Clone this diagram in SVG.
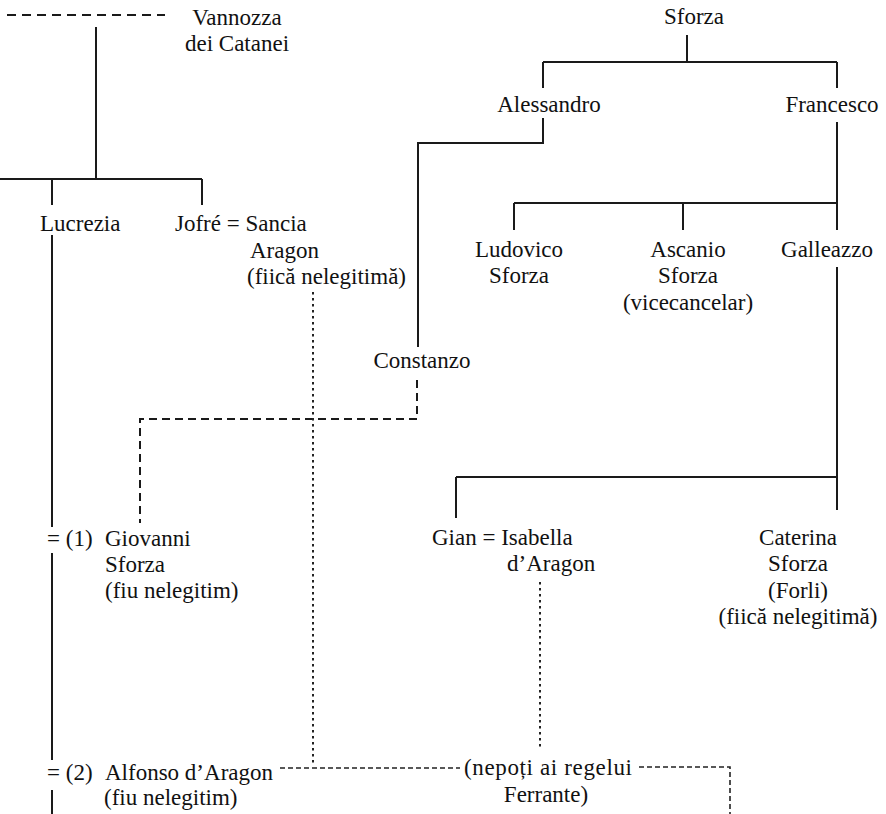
<svg xmlns="http://www.w3.org/2000/svg" width="886" height="814" viewBox="0 0 886 814">
<style>
text{font-family:"Liberation Serif","Times New Roman",serif;font-size:23px;fill:#111}
.m{text-anchor:middle}
.s{fill:none;stroke:#1a1a1a;stroke-width:2}
.d{fill:none;stroke:#1a1a1a;stroke-width:2;stroke-dasharray:9 6}
.d2{fill:none;stroke:#1a1a1a;stroke-width:2;stroke-dasharray:8 5}
.sd{fill:none;stroke:#222;stroke-width:1.6;stroke-dasharray:5 3}
.dt{fill:none;stroke:#222;stroke-width:2;stroke-dasharray:2.5 3.5}
</style>
<rect width="886" height="814" fill="#fff"/>
<g id="connectors">
<path class="d" d="M7 15H165"/>
<path class="s" d="M96 27V179M0 179H202M52 179V205M202 179V205"/>
<path class="s" d="M52 235V527M52 553V760M52 790V814"/>
<path class="s" d="M687 35V62M543 62H837M543 62V88M837 62V88"/>
<path class="s" d="M543 118V143H418V347"/>
<path class="s" d="M837 122V230M514 203H837M514 203V230M683 203V230"/>
<path class="s" d="M837 267V510M456 477H837M456 477V518"/>
<path class="d2" d="M417 380V419H140V523"/>
<path class="dt" d="M313 292V766"/>
<path class="dt" d="M540 582V747"/>
<path class="sd" d="M280 768H460M639 767H730V814"/>
</g>
<g id="vannozza"><text class="m" x="237" y="25">Vannozza</text><text class="m" x="237" y="51">dei Catanei</text></g>
<g id="sforza"><text class="m" x="694" y="24">Sforza</text></g>
<g id="alessandro"><text class="m" x="549" y="112">Alessandro</text></g>
<g id="francesco"><text class="m" x="832" y="112">Francesco</text></g>
<g id="lucrezia"><text x="40" y="231">Lucrezia</text></g>
<g id="jofre"><text x="175" y="231">Jofré = Sancia</text><text x="250" y="258">Aragon</text><text x="247" y="284">(fiică nelegitimă)</text></g>
<g id="ludovico"><text class="m" x="519" y="257">Ludovico</text><text class="m" x="519" y="283">Sforza</text></g>
<g id="ascanio"><text class="m" x="688" y="257">Ascanio</text><text class="m" x="688" y="283">Sforza</text><text class="m" x="688" y="310">(vicecancelar)</text></g>
<g id="galleazzo"><text class="m" x="827" y="257">Galleazzo</text></g>
<g id="constanzo"><text class="m" x="422" y="368">Constanzo</text></g>
<g id="giovanni"><text x="47" y="546">= (1)</text><text x="105" y="546">Giovanni</text><text x="105" y="572">Sforza</text><text x="105" y="598">(fiu nelegitim)</text></g>
<g id="gian"><text x="432" y="545">Gian = Isabella</text><text x="507" y="571">d’Aragon</text></g>
<g id="caterina"><text class="m" x="798" y="545">Caterina</text><text class="m" x="798" y="571">Sforza</text><text class="m" x="798" y="598">(Forli)</text><text class="m" x="798" y="624">(fiică nelegitimă)</text></g>
<g id="alfonso"><text x="47" y="780">= (2)</text><text x="105" y="780">Alfonso d’Aragon</text><text x="104" y="805">(fiu nelegitim)</text></g>
<g id="nepoti"><text x="464" y="775" textLength="168">(nepoți ai regelui</text><text class="m" x="546" y="802">Ferrante)</text></g>
</svg>
